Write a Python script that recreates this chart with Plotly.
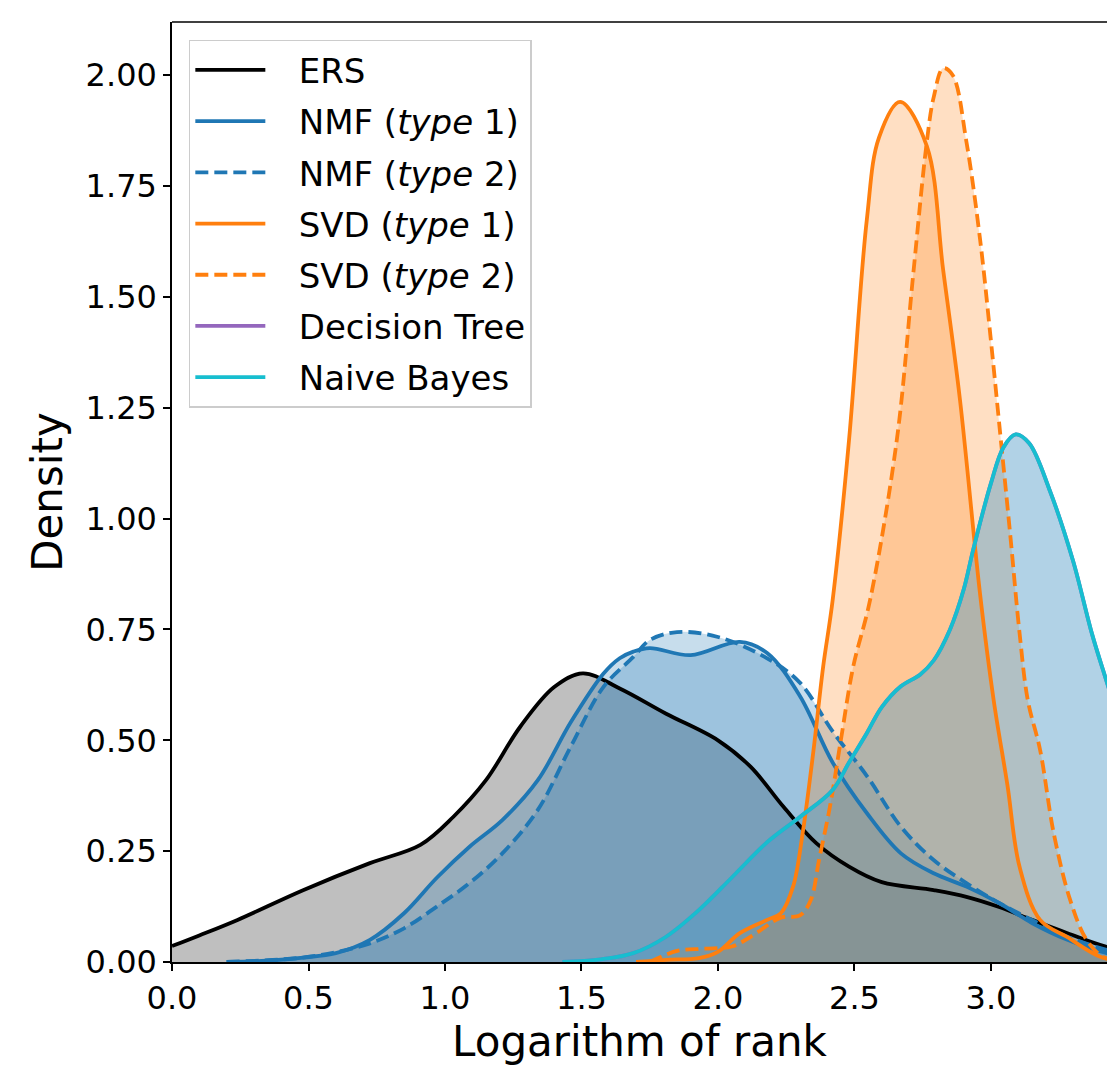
import plotly.graph_objects as go

# Kernel density estimates of log(rank) for each method
ers_x = [0.0, 0.10, 0.24, 0.48, 0.725, 0.91, 1.03, 1.15, 1.275, 1.40, 1.505, 1.64, 1.81, 2.0, 2.12, 2.24, 2.36, 2.48, 2.60, 2.79, 2.91, 3.03, 3.15, 3.28, 3.425, 3.55]
ers_y = [0.036, 0.06, 0.095, 0.162, 0.223, 0.264, 0.327, 0.41, 0.53, 0.62, 0.651, 0.617, 0.56, 0.50, 0.44, 0.35, 0.268, 0.215, 0.18, 0.162, 0.147, 0.124, 0.095, 0.065, 0.034, 0.02]

nmf1_x = [0.20, 0.35, 0.48, 0.60, 0.725, 0.85, 0.97, 1.09, 1.21, 1.34, 1.46, 1.58, 1.64, 1.69, 1.75, 1.90, 2.08, 2.18, 2.30, 2.42, 2.545, 2.67, 2.79, 2.91, 3.03, 3.15, 3.28, 3.425, 3.55]
nmf1_y = [0.0, 0.003, 0.01, 0.02, 0.05, 0.11, 0.19, 0.26, 0.32, 0.41, 0.54, 0.65, 0.685, 0.70, 0.708, 0.692, 0.722, 0.697, 0.60, 0.45, 0.336, 0.245, 0.20, 0.17, 0.133, 0.088, 0.05, 0.02, 0.008]

nmf2_x = [0.20, 0.35, 0.48, 0.60, 0.725, 0.85, 0.97, 1.09, 1.21, 1.34, 1.46, 1.58, 1.69, 1.75, 1.85, 2.0, 2.18, 2.30, 2.42, 2.545, 2.67, 2.79, 2.91, 3.03, 3.15, 3.28, 3.425, 3.55]
nmf2_y = [0.0, 0.004, 0.01, 0.022, 0.042, 0.076, 0.125, 0.178, 0.245, 0.343, 0.485, 0.62, 0.688, 0.726, 0.744, 0.733, 0.685, 0.63, 0.52, 0.42, 0.305, 0.23, 0.178, 0.133, 0.095, 0.057, 0.027, 0.01]

svd1_x = [1.70, 1.81, 1.93, 2.0, 2.08, 2.18, 2.23, 2.275, 2.31, 2.35, 2.385, 2.42, 2.48, 2.545, 2.59, 2.667, 2.765, 2.825, 2.886, 2.96, 3.01, 3.06, 3.105, 3.18, 3.28, 3.40, 3.50]
svd1_y = [0.0, 0.005, 0.009, 0.023, 0.065, 0.095, 0.11, 0.17, 0.29, 0.478, 0.665, 0.816, 1.177, 1.673, 1.86, 1.94, 1.84, 1.56, 1.27, 0.83, 0.59, 0.40, 0.214, 0.095, 0.056, 0.012, 0.0]

svd2_x = [1.75, 1.85, 1.95, 2.05, 2.12, 2.23, 2.30, 2.34, 2.37, 2.41, 2.45, 2.495, 2.557, 2.655, 2.715, 2.765, 2.79, 2.825, 2.86, 2.91, 2.96, 3.0, 3.03, 3.07, 3.105, 3.135, 3.18, 3.23, 3.29, 3.35, 3.41, 3.50]
svd2_y = [0.0, 0.025, 0.03, 0.035, 0.057, 0.10, 0.105, 0.14, 0.23, 0.35, 0.50, 0.665, 0.816, 1.177, 1.55, 1.85, 1.95, 2.016, 2.0, 1.85, 1.63, 1.40, 1.215, 0.967, 0.74, 0.59, 0.478, 0.29, 0.14, 0.05, 0.012, 0.0]

nb_x = [1.43, 1.57, 1.69, 1.81, 1.93, 2.05, 2.18, 2.30, 2.42, 2.48, 2.545, 2.60, 2.67, 2.74, 2.79, 2.85, 2.90, 2.935, 3.0, 3.045, 3.09, 3.14, 3.215, 3.30, 3.37, 3.425, 3.50]
nb_y = [0.0, 0.006, 0.02, 0.057, 0.117, 0.19, 0.27, 0.327, 0.388, 0.45, 0.516, 0.575, 0.622, 0.648, 0.68, 0.75, 0.84, 0.93, 1.08, 1.16, 1.19, 1.17, 1.064, 0.906, 0.74, 0.63, 0.48]

# Decision Tree shares the Naive Bayes distribution
dt_x = list(nb_x)
dt_y = list(nb_y)

series = [
    ("ERS", ers_x, ers_y, "#000000", "solid"),
    ("NMF (<i>type</i> 1)", nmf1_x, nmf1_y, "#1f77b4", "solid"),
    ("NMF (<i>type</i> 2)", nmf2_x, nmf2_y, "#1f77b4", "13px,6px"),
    ("SVD (<i>type</i> 1)", svd1_x, svd1_y, "#ff7f0e", "solid"),
    ("SVD (<i>type</i> 2)", svd2_x, svd2_y, "#ff7f0e", "13px,6px"),
    ("Decision Tree", dt_x, dt_y, "#9467bd", "solid"),
    ("Naive Bayes", nb_x, nb_y, "#17becf", "solid"),
]


def rgba(hex_color, alpha):
    h = hex_color.lstrip("#")
    r, g, b = int(h[0:2], 16), int(h[2:4], 16), int(h[4:6], 16)
    return f"rgba({r},{g},{b},{alpha})"


SMOOTH = 1.0
fig = go.Figure()

# Shaded areas first, so every outline sits above every fill
for name, xs, ys, color, dash in series:
    fig.add_trace(go.Scatter(
        x=xs, y=ys, mode="lines",
        line=dict(width=0, shape="spline", smoothing=SMOOTH, color=color),
        fill="tozeroy", fillcolor=rgba(color, 0.25),
        showlegend=False, hoverinfo="skip",
    ))

PAD = "\u00a0\u00a0\u2009"
for i, (name, xs, ys, color, dash) in enumerate(series):
    fig.add_trace(go.Scatter(
        x=xs, y=ys, mode="lines", name=PAD + name,
        line=dict(width=3.8, shape="spline", smoothing=SMOOTH, color=color, dash=dash),
        legendgroup=f"g{i}",
    ))

font_family = "DejaVu Sans"

fig.update_layout(
    width=1107, height=1069,
    margin=dict(l=172, r=0, t=22, b=107),
    paper_bgcolor="white", plot_bgcolor="white",
    font=dict(family=font_family, color="black"),
    showlegend=True,
    legend=dict(
        x=0.018, y=0.981, xanchor="left", yanchor="top",
        bgcolor="rgba(255,255,255,0.8)", bordercolor="#cccccc", borderwidth=1.5,
        font=dict(family=font_family, size=34, color="black"),
        traceorder="grouped", tracegroupgap=4, itemwidth=70,
    ),
    xaxis=dict(
        range=[0, 3.425], dtick=0.5, tick0=0, tickformat=".1f",
        showgrid=False, zeroline=False,
        showline=True, linecolor="black", linewidth=1.5,
        ticks="outside", ticklen=7, tickwidth=1.5, tickcolor="black",
        tickfont=dict(family=font_family, size=32, color="black"),
        title=dict(text="Logarithm of rank", font=dict(family=font_family, size=42, color="black"), standoff=10),
    ),
    yaxis=dict(
        range=[0, 2.12], dtick=0.25, tick0=0, tickformat=".2f",
        showgrid=False, zeroline=False,
        showline=True, linecolor="black", linewidth=1.5,
        ticks="outside", ticklen=7, tickwidth=1.5, tickcolor="black",
        tickfont=dict(family=font_family, size=32, color="black"),
        title=dict(text="Density", font=dict(family=font_family, size=42, color="black"), standoff=10),
    ),
    shapes=[dict(type="line", xref="paper", yref="paper", x0=0, x1=1, y0=1, y1=1,
                 line=dict(color="black", width=1.5))],
)

fig.write_html("out.html")
